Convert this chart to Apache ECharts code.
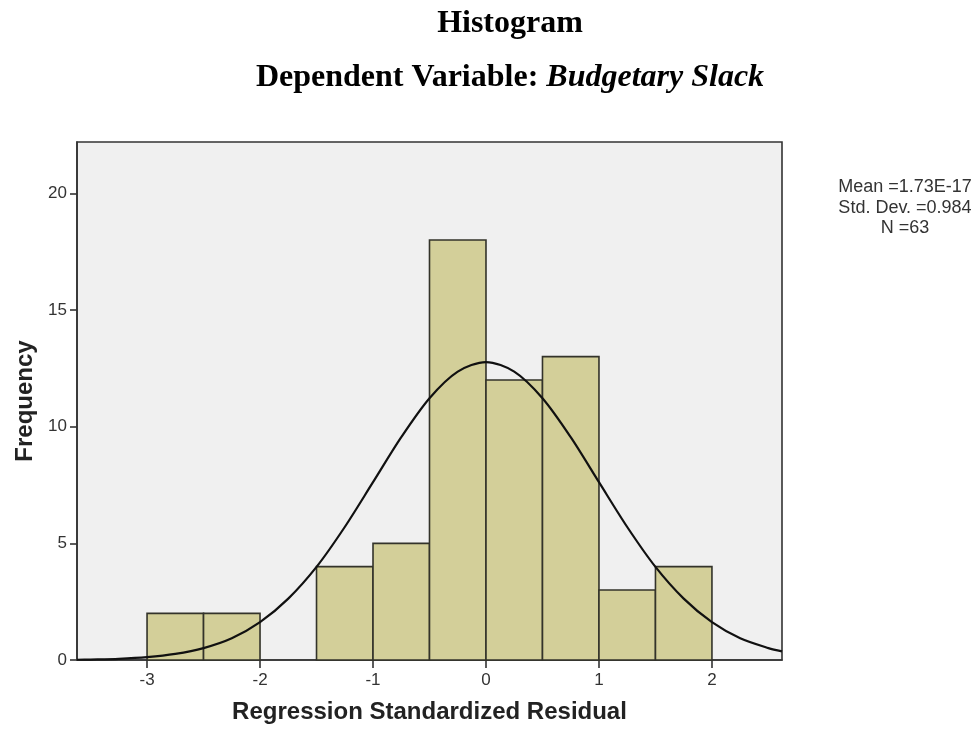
<!DOCTYPE html>
<html>
<head>
<meta charset="utf-8">
<script src="https://cdn.jsdelivr.net/npm/echarts@6/dist/echarts.min.js"></script>
<style>
html,body{margin:0;padding:0;background:#fff;}
#chart{width:979px;height:743px;}
</style>
</head>
<body>
<div id="chart"></div>
<script>
// Histogram bins (residual ranges) and frequencies
var binLow  = [-3, -2.5, -1.5, -1, -0.5, 0, 0.5, 1, 1.5];
var binHigh = [-2.5, -2, -1, -0.5, 0, 0.5, 1, 1.5, 2];
var binCount = [2, 2, 4, 5, 18, 12, 13, 3, 4];

// Normal curve
var curveX = [-3.62,-3.5,-3.25,-3,-2.75,-2.5,-2.25,-2,-1.75,-1.5,-1.25,-1,-0.75,-0.5,-0.25,0,0.25,0.5,0.75,1,1.25,1.5,1.75,2,2.25,2.5,2.62];
var curveY = [0.01,0.02,0.05,0.12,0.26,0.51,0.93,1.62,2.63,3.99,5.70,7.62,9.55,11.22,12.36,12.77,12.36,11.22,9.55,7.62,5.70,3.99,2.63,1.62,0.93,0.51,0.37];

var xTicks = [-3, -2, -1, 0, 1, 2];
var yTicks = [0, 5, 10, 15, 20];

var statLines = ['Mean =1.73E-17', 'Std. Dev. =0.984', 'N =63'];

var histData = binLow.map(function (lo, i) { return [lo, binHigh[i], binCount[i]]; });
var curveData = curveX.map(function (x, i) { return [x, curveY[i]]; });

var chart = echarts.init(document.getElementById('chart'), null, {renderer: 'canvas'});
var axisColor = '#333333';
var option = {
  animation: false,
  backgroundColor: '#ffffff',
  grid: {
    left: 77, right: 197, top: 142, bottom: 83,
    outerBoundsMode: 'none', containLabel: false,
    show: true, backgroundColor: '#f0f0f0', borderColor: axisColor, borderWidth: 1.6
  },
  xAxis: {
    type: 'value', min: -3.62, max: 2.62,
    name: 'Regression Standardized Residual',
    nameLocation: 'middle', nameGap: 40,
    nameTextStyle: {fontFamily: 'Liberation Sans', fontWeight: 'bold', fontSize: 24, color: '#222'},
    axisLine: {show: true, onZero: false, lineStyle: {color: axisColor, width: 1.6}},
    axisTick: {show: true, inside: false, length: 8, customValues: xTicks, lineStyle: {color: axisColor, width: 1.6}},
    axisLabel: {customValues: xTicks, margin: 12, fontFamily: 'Liberation Sans', fontSize: 17, color: '#333'},
    splitLine: {show: false}
  },
  yAxis: {
    type: 'value', min: 0, max: 22.2,
    name: 'Frequency',
    nameLocation: 'middle', nameGap: 37, nameRotate: 90,
    nameTextStyle: {fontFamily: 'Liberation Sans', fontWeight: 'bold', fontSize: 24, color: '#222'},
    axisLine: {show: true, onZero: false, lineStyle: {color: axisColor, width: 1.6}},
    axisTick: {show: true, inside: false, length: 7, customValues: yTicks, lineStyle: {color: axisColor, width: 1.6}},
    axisLabel: {customValues: yTicks, margin: 10, fontFamily: 'Liberation Sans', fontSize: 17, color: '#333'},
    splitLine: {show: false}
  },
  graphic: [
    {type: 'text', x: 510, y: 24, style: {text: 'Histogram', align: 'center', verticalAlign: 'middle',
      fontFamily: 'Liberation Serif', fontWeight: 'bold', fontSize: 32, fill: '#000'}},
    {type: 'text', x: 510, y: 78, style: {text: '{b|Dependent Variable: }{i|Budgetary Slack}', align: 'center', verticalAlign: 'middle',
      rich: {
        b: {fontFamily: 'Liberation Serif', fontWeight: 'bold', fontSize: 32, fill: '#000'},
        i: {fontFamily: 'Liberation Serif', fontWeight: 'bold', fontStyle: 'italic', fontSize: 32, fill: '#000'}
      }}},
    {type: 'text', x: 905, y: 187, style: {text: statLines[0], align: 'center', verticalAlign: 'middle', fontFamily: 'Liberation Sans', fontSize: 18, fill: '#333'}},
    {type: 'text', x: 905, y: 208, style: {text: statLines[1], align: 'center', verticalAlign: 'middle', fontFamily: 'Liberation Sans', fontSize: 18, fill: '#333'}},
    {type: 'text', x: 905, y: 228, style: {text: statLines[2], align: 'center', verticalAlign: 'middle', fontFamily: 'Liberation Sans', fontSize: 18, fill: '#333'}}
  ],
  series: [
    {
      type: 'custom',
      data: histData,
      encode: {x: [0, 1], y: 2},
      renderItem: function (params, api) {
        var p0 = api.coord([api.value(0), api.value(2)]);
        var p1 = api.coord([api.value(1), 0]);
        return {
          type: 'rect',
          shape: {x: p0[0], y: p0[1], width: p1[0] - p0[0], height: p1[1] - p0[1]},
          style: {fill: '#d3cf99', stroke: '#33332a', lineWidth: 1.6}
        };
      },
      z: 2
    },
    {
      type: 'line',
      data: curveData,
      smooth: 0.3,
      showSymbol: false,
      lineStyle: {color: '#111', width: 2.2},
      z: 3
    }
  ]
};
chart.setOption(option);
</script>
</body>
</html>
